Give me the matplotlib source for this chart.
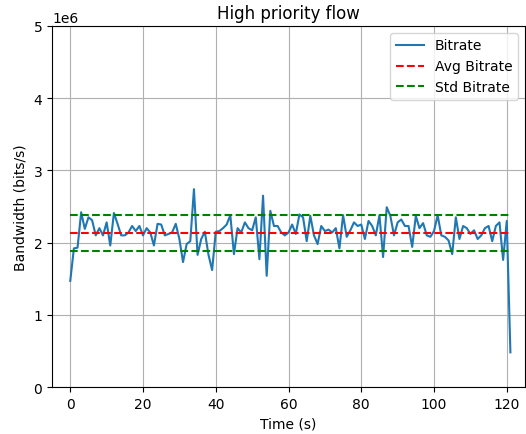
import matplotlib
matplotlib.use("Agg")
import matplotlib.pyplot as plt

# bitrate samples, one per second (units of 1e6 bits/s)
bitrate = [1.47, 1.92, 1.93, 2.42, 2.19, 2.35, 2.31, 2.10, 2.20, 2.10,
           2.28, 1.96, 2.41, 2.26, 2.10, 2.10, 2.14, 2.23, 2.16, 2.23,
           2.10, 2.20, 2.14, 1.96, 2.26, 2.25, 2.10, 2.12, 2.14, 2.26,
           2.05, 1.73, 1.98, 2.02, 2.74, 1.83, 2.05, 2.15, 1.83, 1.62,
           2.15, 2.16, 2.20, 2.25, 2.38, 1.84, 2.20, 2.14, 2.28, 2.20,
           2.17, 2.35, 1.77, 2.65, 1.54, 2.44, 2.23, 2.23, 2.14, 2.10,
           2.14, 2.25, 2.12, 2.39, 2.35, 2.02, 2.37, 2.10, 1.98, 2.23,
           2.16, 2.18, 2.14, 2.20, 1.92, 2.38, 2.08, 2.17, 2.28, 2.23,
           2.25, 2.05, 2.30, 2.23, 2.10, 2.38, 1.80, 2.49, 2.37, 2.10,
           2.28, 2.32, 2.23, 2.23, 1.94, 2.37, 2.20, 2.27, 2.10, 2.08,
           2.16, 2.38, 2.10, 2.08, 2.03, 1.84, 2.35, 2.05, 2.23, 2.20,
           2.12, 2.17, 2.05, 2.10, 2.20, 2.23, 2.02, 2.23, 2.28, 1.76,
           2.30, 0.48]
bitrate = [b * 1e6 for b in bitrate]
time = list(range(len(bitrate)))

avg_bitrate = 2.135e6
std_bitrate = 0.245e6

fig = plt.figure(figsize=(5.26, 4.35), dpi=100)
ax = fig.add_subplot(111)

ax.plot(time, bitrate, label="Bitrate")
ax.plot([time[0], time[-1]], [avg_bitrate, avg_bitrate], 'r--', label="Avg Bitrate")
ax.plot([time[0], time[-1]], [avg_bitrate + std_bitrate] * 2, 'g--', label="Std Bitrate")
ax.plot([time[0], time[-1]], [avg_bitrate - std_bitrate] * 2, 'g--')

ax.set_ylim(0, 5e6)
ax.set_xlim(-5, 125)
ax.set_title("High priority flow")
ax.set_xlabel("Time (s)")
ax.set_ylabel("Bandwidth (bits/s)")
ax.grid(True)
ax.legend(loc="upper right")

fig.subplots_adjust(left=0.099, right=0.998, top=0.938, bottom=0.108)
fig.savefig("out.png")
